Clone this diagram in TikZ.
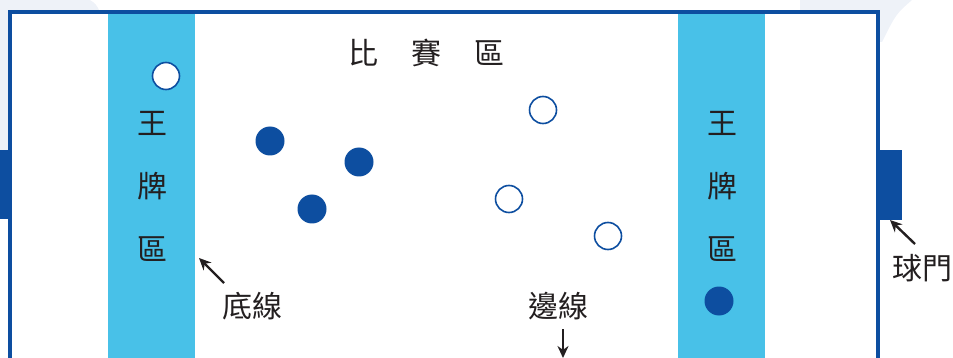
\documentclass[tikz,border=0pt]{standalone}
\usepackage{fontspec}
\newfontfamily\cjk{Noto Sans CJK TC}
\usetikzlibrary{arrows.meta}
\definecolor{fieldblue}{HTML}{0D4EA0}
\definecolor{zoneblue}{HTML}{48C1E8}
\definecolor{inkdark}{HTML}{231F20}
\definecolor{paleback}{HTML}{EEF2F8}
\tikzset{
  openplayer/.style={circle, draw=fieldblue, line width=1.6pt, fill=white, minimum size=27pt, inner sep=0pt},
  fullplayer/.style={circle, fill=fieldblue, minimum size=29pt, inner sep=0pt},
  label/.style={text=inkdark, font=\cjk\fontsize{30}{63}\selectfont, inner sep=0pt},
  pointer/.style={draw=inkdark, line width=2.4pt, -{Stealth[length=12pt,width=11pt]}},
}
\begin{document}
\begin{tikzpicture}[x=1pt,y=-1pt]
\useasboundingbox (0,0) rectangle (953,358);
\clip (0,0) rectangle (953,358);
% pale background shapes
\fill[paleback] (0,0) -- (90,0) .. controls (96,4) .. (100,12) -- (100,150) -- (0,150) -- cycle;
\fill[paleback] (800,0) -- (912,0) .. controls (896,14) .. (882,42) -- (800,42) -- cycle;
% field
\fill[white] (10,12) rectangle (878,380);
\fill[zoneblue] (108,12) rectangle (195,380);
\fill[zoneblue] (678,12) rectangle (765,380);
\draw[fieldblue, line width=4pt] (10,380) -- (10,12) -- (878,12) -- (878,380);
% goals
\fill[fieldblue] (0,150) rectangle (10,219);
\fill[fieldblue] (878,150) rectangle (902,220);
% labels
\node[label] (area) at (426,53) {比\hspace{33pt}賽\hspace{33pt}區};
\node[label, align=center] (kingL) at (152,186) {王\\牌\\區};
\node[label, align=center] (kingR) at (722,186) {王\\牌\\區};
\node[label] (baseline) at (252,306) {底線};
\node[label] (sideline) at (558,306) {邊線};
\node[label] (goal) at (922,268) {球門};
% players
\node[openplayer] (o1) at (166,76) {};
\node[openplayer] (o2) at (543,110) {};
\node[openplayer] (o3) at (509,199) {};
\node[openplayer] (o4) at (608,236) {};
\node[fullplayer] (f1) at (270,141) {};
\node[fullplayer] (f2) at (359,162) {};
\node[fullplayer] (f3) at (312,209) {};
\node[fullplayer] (f4) at (719,301) {};
% pointers
\coordinate (baseTip) at (199,258);
\coordinate (baseTail) at (224,283);
\coordinate (sideTail) at (563,329);
\coordinate (sideTip) at (563,358);
\coordinate (goalTip) at (890,220);
\coordinate (goalTail) at (915,244);
\draw[pointer] (baseTail) -- (baseTip);
\draw[pointer] (sideTail) -- (sideTip);
\draw[pointer] (goalTail) -- (goalTip);
\end{tikzpicture}
\end{document}
